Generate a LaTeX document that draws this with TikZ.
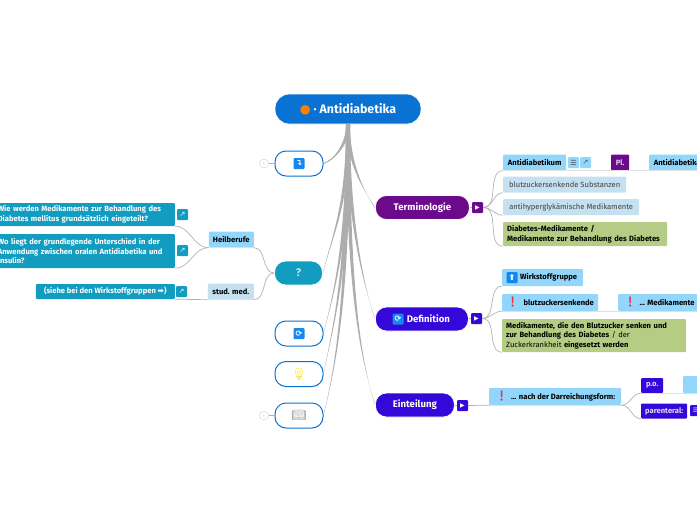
\documentclass[tikz,border=0pt]{standalone}
\usepackage{fontspec}
\setmainfont{Fira Sans}
\newfontfamily\symb{DejaVu Sans}
\newfontfamily\emoji{Noto Emoji}
\usetikzlibrary{calc}

\definecolor{rootblue}{HTML}{0A72D2}
\definecolor{emblemblue}{HTML}{1488EE}
\definecolor{teal}{HTML}{129CBF}
\definecolor{plum}{HTML}{6C0A8C}
\definecolor{indigo}{HTML}{3308D8}
\definecolor{skyleaf}{HTML}{92D6FB}
\definecolor{paleleaf}{HTML}{C5E0F0}
\definecolor{greenleaf}{HTML}{B5CC84}
\definecolor{alert}{HTML}{E8343C}

\newcommand{\bang}{{\emoji\fontsize{10}{10}\selectfont\textcolor{alert}{❗}}}

\tikzset{
  mainnode/.style={draw=white,line width=.8pt,rounded corners=11pt,text=white,font=\fontsize{9.6}{11}\selectfont\bfseries,inner sep=0pt,minimum height=24pt},
  hollownode/.style={draw=rootblue,line width=1pt,fill=white,rounded corners=11pt,inner sep=0pt,minimum width=48pt,minimum height=25pt},
  leaf/.style={rounded corners=1pt,inner sep=0pt,minimum height=16pt,font=\fontsize{7.6}{9.6}\selectfont\bfseries},
  plainleaf/.style={leaf,fill=paleleaf,text=black!75,anchor=west,font=\fontsize{7.6}{9}\selectfont},
  tagbox/.style={rounded corners=1pt,inner sep=0pt,minimum size=11pt,text=white,font=\symb\fontsize{6}{6}\selectfont},
  iconbox/.style={fill=skyleaf,rounded corners=1pt,inner sep=0pt,minimum size=11pt,text=black!70,font=\symb\fontsize{7}{7}\selectfont},
  linkbox/.style={fill=teal,rounded corners=1pt,inner sep=0pt,minimum size=11pt,text=white,font=\symb\fontsize{7}{7}\selectfont},
  emblem/.style={fill=emblemblue,rounded corners=1pt,inner sep=0pt,minimum size=11pt,text=white,font=\symb\bfseries\fontsize{8}{8}\selectfont},
  notecircle/.style={circle,draw=black!20,inner sep=0pt,minimum size=9pt,text=black!30,font=\fontsize{5}{5}\selectfont},
  twig/.style={draw=black!30,line width=.7pt},
  underline/.style={draw=black!12,line width=.8pt},
  stem/.style={fill=black!32}
}

% tapered branch out of the root: target, first control, second control
\newcommand{\branch}[3]{
  \fill[stem] ($(root.south)+(-2,0)$) .. controls +(#2) and +(#3) .. ($(#1)+(0,-.5)$)
    -- ($(#1)+(0,.5)$) .. controls +(#3) and +(#2) .. ($(root.south)+(2,0)$) -- cycle;
}

\begin{document}
\begin{tikzpicture}[x=1pt,y=-1pt]
\useasboundingbox (0,0) rectangle (697,520);

\node[mainnode,fill=rootblue,minimum width=146pt,minimum height=30pt,rounded corners=14pt,font=\fontsize{12.4}{13}\selectfont\bfseries] at (348,109) (root) {{\symb\textcolor{orange}{●}} · Antidiabetika};

% hollow topics on the left
\foreach \y/\i/\nm in {163.5/{}/jump,333.5/{}/sync,374/{\emoji\fontsize{12}{12}\selectfont\textcolor{yellow!85!orange}{💡}}/bulb,415.5/{\emoji\fontsize{12}{12}\selectfont\textcolor{black!40}{📖}}/book}
  \node[hollownode] at (299,\y) (\nm) {\i};
\node[emblem] at (jump) (jumpicon) {↴};
\node[emblem] at (sync) (syncicon) {⟳};
\node[mainnode,fill=teal,minimum width=48pt,text=white!75!teal,font=\fontsize{11}{13}\selectfont\bfseries] at (298.5,273) (ask) {?};

\node[notecircle] at (264,163.5) (notea) {i};
\node[notecircle] at (264,415.5) (noteb) {i};
\draw[twig] (notea) -- (jump);
\draw[twig] (noteb) -- (book);

% topics on the right
\foreach \y/\w/\i/\nm/\c in {207.5/94/Terminologie/term/plum,319/93/{\hspace{13pt}Definition}/defi/indigo,405/79/Einteilung/eint/indigo}
  \node[mainnode,fill=\c,anchor=west,minimum width=\w pt] at (375,\y) (\nm) {\i};
\node[emblem] at (398,319) (defiicon) {⟳};
\node[tagbox,fill=plum] at (477.5,207.5) (termtag) {▶};
\node[tagbox,fill=indigo] at (476.5,318.5) (defitag) {▶};
\node[tagbox,fill=indigo] at (462.5,405.5) (einttag) {▶};
\draw[twig] (term) -- (termtag);
\draw[twig] (defi) -- (defitag);
\draw[twig] (eint) -- (einttag);

\branch{jump.east}{0,20}{10,-3}
\branch{ask.east}{0,80}{10,-40}
\branch{sync.east}{0,120}{10,-40}
\branch{bulb.east}{0,150}{10,-50}
\branch{book.east}{0,180}{12,-50}
\branch{term.west}{0,40}{-10,-15}
\branch{defi.west}{0,100}{-10,-30}
\branch{eint.west}{0,180}{-12,-40}

% Terminologie
\node[leaf,fill=skyleaf,anchor=west,minimum width=63pt] at (503,162.5) (anti) {Antidiabetikum};
\node[iconbox] at (573.5,162.5) (antilist) {☰};
\node[iconbox] at (585.5,162.5) (antilink) {↗};
\node[leaf,fill=plum,text=white!80!plum,anchor=west,minimum width=18pt] at (611,162.5) (plural) {Pl.};
\node[leaf,fill=skyleaf,anchor=west,minimum width=56pt] at (649,162.5) (antipl) {Antidiabetika};
\node[plainleaf,minimum width=123pt] at (503,184.5) (subst) {blutzuckersenkende Substanzen};
\node[plainleaf,minimum width=136pt] at (503,207) (anhyp) {antihyperglykämische Medikamente};
\node[leaf,fill=greenleaf,anchor=west,text width=156pt,inner xsep=4pt,minimum height=24pt,align=left] at (503,234) (dmed) {Diabetes-Medikamente /\\Medikamente zur Behandlung des Diabetes};

\draw[underline] (anti.south west) -- (antipl.south east);
\draw[twig] (termtag.east) to[out=0,in=180] (anti.south west);
\draw[twig] (termtag.east) to[out=0,in=180] (subst.south west);
\draw[twig] (termtag.east) to[out=0,in=180] (anhyp.south west);
\draw[twig] (termtag.east) to[out=0,in=180] (dmed.south west);

% Definition
\node[leaf,fill=skyleaf,anchor=west,minimum width=81pt,minimum height=17pt] at (502,277.5) (wirk) {\hspace{12pt}Wirkstoffgruppe};
\node[emblem] at (512,277.5) (wirkicon) {⬆};
\node[leaf,fill=skyleaf,anchor=west,minimum width=96pt,minimum height=17pt] at (502,302.5) (senk) {\bang\,\, blutzuckersenkende};
\node[leaf,fill=skyleaf,anchor=west,minimum width=82pt,minimum height=17pt] at (618,302.5) (medi) {\bang\, ... Medikamente};
\node[leaf,fill=greenleaf,anchor=west,text width=176pt,inner xsep=4pt,minimum height=33pt,align=left] at (502,335.5) (dtext) {Medikamente, die den Blutzucker senken und\\zur Behandlung des Diabetes {\mdseries / der}\\{\mdseries Zuckerkrankheit} eingesetzt werden};

\draw[underline] (senk.south west) -- (medi.south east);
\draw[twig] (defitag.east) to[out=0,in=180] (wirk.south west);
\draw[twig] (defitag.east) to[out=0,in=180] (senk.south west);
\draw[twig] (defitag.east) to[out=0,in=180] (dtext.south west);

% Einteilung
\node[leaf,fill=skyleaf,anchor=west,minimum width=132pt,minimum height=17pt] at (489,396.5) (form) {\bang\, ... nach der Darreichungsform:};
\node[leaf,fill=indigo,text=white!85!indigo,anchor=west,minimum width=22pt,minimum height=15pt] at (641,385.5) (peros) {p.o.};
\node[leaf,fill=skyleaf,anchor=west,minimum width=30pt,minimum height=17pt] at (683,384.5) (oral) {\bang\hspace{16pt}};
\node[leaf,fill=indigo,text=white!85!indigo,anchor=west,minimum width=46pt,minimum height=15pt] at (641,411) (paren) {parenteral:};
\node[tagbox,fill=indigo] at (695.5,410.5) (parlist) {☰};

\draw[twig] (einttag.east) -- (form.south west);
\draw[underline] (form.south west) -- (form.south east);
\draw[underline] (peros.south west) -- (oral.south east);
\draw[twig] (form.south east) to[out=0,in=180] (peros.south west);
\draw[twig] (form.south east) to[out=0,in=180] (paren.south west);

% questions on the left
\node[leaf,fill=skyleaf,anchor=east,minimum width=45pt] at (254,239.5) (heil) {Heilberufe};
\node[leaf,fill=paleleaf,anchor=east,minimum width=46pt] at (254,291.5) (stud) {stud. med.};
\node[leaf,fill=teal,text=white,anchor=east,text width=173pt,inner xsep=4pt,minimum height=23pt,align=left] at (175,214.5) (qone) {Wie werden Medikamente zur Behandlung des\\Diabetes mellitus grundsätzlich eingeteilt?};
\node[leaf,fill=teal,text=white,anchor=east,text width=173pt,inner xsep=4pt,minimum height=34pt,align=left] at (175,251) (qtwo) {Wo liegt der grundlegende Unterschied in der\\Anwendung zwischen oralen Antidiabetika und\\Insulin?};
\node[leaf,fill=teal,text=white,anchor=east,minimum width=139pt,minimum height=15pt] at (175,291.5) (qthree) {(siehe bei den Wirkstoffgruppen {\symb ➡})};
\node[linkbox] at (182.5,214.5) (lone) {↗};
\node[linkbox] at (182.5,250.5) (ltwo) {↗};
\node[linkbox] at (181.5,291.5) (lthree) {↗};

\draw[underline] (heil.south west) -- (heil.south east);
\draw[underline] (stud.south west) -- (stud.south east);
\draw[twig] (ask.west) to[out=180,in=0] (heil.south east);
\draw[twig] (ask.west) to[out=180,in=0] (stud.south east);
\draw[twig] (heil.south west) to[out=180,in=0] (qone.south east);
\draw[twig] (heil.south west) to[out=180,in=0] (qtwo.south east);
\draw[twig] (stud.south west) -- (qthree.south east);
\end{tikzpicture}
\end{document}
